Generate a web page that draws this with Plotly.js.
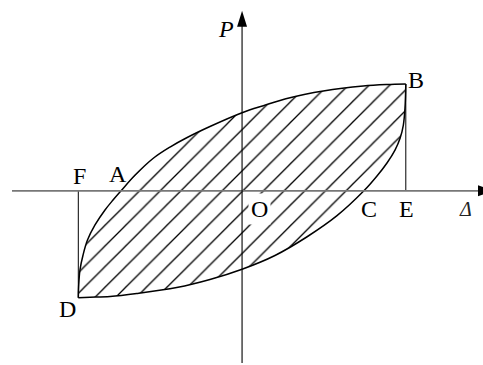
<!DOCTYPE html>
<html>
<head>
<meta charset="utf-8">
<script src="https://cdn.plot.ly/plotly-3.0.1.min.js"></script>
<style>html,body{margin:0;padding:0;background:#fff;}#chart{width:483px;height:365px;}</style>
</head>
<body>
<div id="chart"></div>
<script>
// Upper branch D -> A -> B, in units of Δ/ΔE and P/PB
const upperDelta = [-1, -0.998, -0.990, -0.971, -0.944, -0.898, -0.837, -0.788, -0.739, -0.653, -0.544, -0.440, -0.338, -0.196, 0, 0.130, 0.293, 0.496, 0.740, 0.883, 1];
const upperP     = [-1, -0.897, -0.741, -0.600, -0.460, -0.319, -0.179, -0.086, 0, 0.148, 0.303, 0.410, 0.497, 0.602, 0.731, 0.797, 0.872, 0.934, 0.981, 0.995, 1];
// Lower branch D -> C -> B
const lowerDelta = [-1, -0.928, -0.806, -0.643, -0.399, -0.196, 0, 0.201, 0.395, 0.578, 0.744, 0.824, 0.885, 0.934, 0.965, 0.985, 0.995, 1];
const lowerP     = [-1, -0.996, -0.989, -0.961, -0.905, -0.830, -0.734, -0.605, -0.432, -0.235, 0, 0.139, 0.261, 0.382, 0.492, 0.616, 0.775, 1];
// Point labels
const labelNames = ['B', 'D', 'F', 'A', 'O', 'C', 'E'];

const W = 483, H = 365;
const xRange = [-1.4782, 1.4714];
const yRange = [-1.6299, 1.7861];
function px(x) { return x / W; }
function py(y) { return 1 - y / H; }

const nB = upperDelta.length - 1;
const fillX = upperDelta.concat(lowerDelta.slice().reverse());
const fillY = upperP.concat(lowerP.slice().reverse());

const traces = [
  {
    x: fillX, y: fillY, mode: 'none', fill: 'toself',
    fillcolor: 'rgba(0,0,0,0)',
    fillpattern: {shape: '/', size: 14.6, solidity: 0.09, fgcolor: '#000', bgcolor: 'rgba(0,0,0,0)'},
    hoverinfo: 'skip'
  },
  {x: upperDelta, y: upperP, mode: 'lines', line: {color: '#000', width: 1.5, shape: 'spline', smoothing: 1}, hoverinfo: 'skip'},
  {x: lowerDelta, y: lowerP, mode: 'lines', line: {color: '#000', width: 1.5, shape: 'spline', smoothing: 1}, hoverinfo: 'skip'},
  // B-E and F-D verticals
  {x: [upperDelta[nB], upperDelta[nB]], y: [0, upperP[nB]], mode: 'lines', line: {color: '#000', width: 1}, hoverinfo: 'skip'},
  {x: [upperDelta[0], upperDelta[0]], y: [0, upperP[0]], mode: 'lines', line: {color: '#000', width: 1}, hoverinfo: 'skip'}
];

const font = {family: 'Liberation Serif, Times New Roman, serif', size: 24, color: '#000'};
const labelPos = {B: [415.5, 80], D: [67, 309], F: [79, 176], A: [117.5, 173.5], O: [259, 209], C: [368.5, 209], E: [406, 209]};
const annotations = labelNames.map(n => ({
  text: n, xref: 'paper', yref: 'paper', x: px(labelPos[n][0]), y: py(labelPos[n][1]),
  xanchor: 'center', yanchor: 'middle', showarrow: false, font: font,
  bgcolor: n === 'O' ? '#fff' : 'rgba(0,0,0,0)', borderpad: n === 'O' ? 2 : 0
}));
annotations.push({text: '<i>P</i>', xref: 'paper', yref: 'paper', x: px(226), y: py(29), xanchor: 'center', yanchor: 'middle', showarrow: false, font: font});
annotations.push({text: '<i>Δ</i>', xref: 'paper', yref: 'paper', x: px(465), y: py(209), xanchor: 'center', yanchor: 'middle', showarrow: false, font: Object.assign({}, font, {size: 20, color: '#222'})});

const shapes = [
  {type: 'line', xref: 'paper', yref: 'y', x0: px(12), x1: 1, y0: 0, y1: 0, line: {color: '#777', width: 1.8}, layer: 'above'},
  {type: 'line', xref: 'x', yref: 'paper', x0: 0, x1: 0, y0: py(363), y1: py(20), line: {color: '#000', width: 1.1}, layer: 'above'},
  {type: 'path', xref: 'x', yref: 'paper', xsizemode: 'pixel', ysizemode: 'pixel', xanchor: 0, yanchor: py(10.7),
   path: 'M0,0 L-5,-16 L5,-16 Z', fillcolor: '#000', line: {width: 0}, layer: 'above'},
  {type: 'path', xref: 'paper', yref: 'y', xsizemode: 'pixel', ysizemode: 'pixel', xanchor: px(478), yanchor: 0,
   path: 'M0,-5.5 L16,0 L0,5.5 Z', fillcolor: '#000', line: {width: 0}, layer: 'above'}
];

const layout = {
  width: W, height: H, margin: {l: 0, r: 0, t: 0, b: 0},
  paper_bgcolor: '#fff', plot_bgcolor: '#fff', showlegend: false,
  xaxis: {range: xRange, visible: false, fixedrange: true},
  yaxis: {range: yRange, visible: false, fixedrange: true},
  shapes: shapes, annotations: annotations
};

Plotly.newPlot('chart', traces, layout, {staticPlot: true, displayModeBar: false});
</script>
</body>
</html>
